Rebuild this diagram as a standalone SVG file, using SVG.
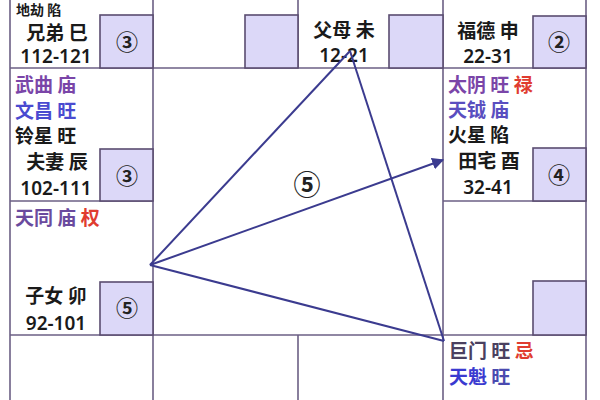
<svg xmlns="http://www.w3.org/2000/svg" width="600" height="400" viewBox="0 0 600 400">
<style>
.t{font-family:"Noto Sans CJK SC","Noto Sans",sans-serif;font-size:19px;font-weight:600;fill:#1a1a1a}
.n{font-family:"Noto Sans","DejaVu Sans",sans-serif;font-size:19px;font-weight:600;fill:#1a1a1a}
.c{font-family:"Noto Sans CJK SC","DejaVu Sans",sans-serif;font-size:22px;font-weight:700;fill:#222;text-anchor:middle}
.m{text-anchor:middle}
.grid{stroke:#6b5f84;stroke-width:1.6;fill:none}
.box{fill:#dcd8f8;stroke:#5a4d70;stroke-width:1.6}
.pu{fill:#7a45a8}
.bl{fill:#4a4ad0}
.rd{fill:#e03c30}
.tri{stroke:#3b3b8f;stroke-width:2;fill:none}
</style>
<defs>
<marker id="ah" viewBox="0 0 10 10" refX="9" refY="5" markerWidth="6" markerHeight="6" orient="auto" markerUnits="strokeWidth">
<path d="M0,0 L10,5 L0,10 z" fill="#3b3b8f"/>
</marker>
</defs>
<rect width="600" height="400" fill="#fff"/>
<g id="grid" class="grid">
<line x1="10" y1="0" x2="10" y2="400"/>
<line x1="153" y1="0" x2="153" y2="400"/>
<line x1="298" y1="0" x2="298" y2="68"/>
<line x1="298" y1="335" x2="298" y2="400"/>
<line x1="443" y1="0" x2="443" y2="400"/>
<line x1="586" y1="0" x2="586" y2="400"/>
<line x1="10" y1="68" x2="586" y2="68"/>
<line x1="10" y1="201" x2="153" y2="201"/>
<line x1="443" y1="201" x2="586" y2="201"/>
<line x1="10" y1="335" x2="586" y2="335"/>
</g>
<g id="cell-si">
<text class="t" x="16" y="15" style="font-size:14px">地劫 陷</text>
<text class="t m" x="57" y="40">兄弟 巳</text>
<text class="n m" x="56" y="63">112-121</text>
<rect class="box" x="100" y="15" width="53" height="53"/>
<text class="c" x="127" y="50">③</text>
</g>
<g id="cell-wu">
<rect class="box" x="245" y="15" width="53" height="53"/>
</g>
<g id="cell-wei">
<text class="t m" x="344" y="37">父母 未</text>
<text class="n m" x="344" y="62">12-21</text>
<rect class="box" x="389" y="15" width="54" height="53"/>
</g>
<g id="cell-shen">
<text class="t m" x="488" y="38">福德 申</text>
<text class="n m" x="488" y="63">22-31</text>
<rect class="box" x="533" y="16" width="53" height="52"/>
<text class="c" x="559" y="50">②</text>
</g>
<g id="cell-chen">
<text class="t pu" x="15" y="92">武曲 庙</text>
<text class="t bl" x="15" y="118">文昌 旺</text>
<text class="t" x="15" y="143">铃星 旺</text>
<text class="t m" x="57" y="169">夫妻 辰</text>
<text class="n m" x="56" y="195">102-111</text>
<rect class="box" x="100" y="149" width="53" height="52"/>
<text class="c" x="127" y="184">③</text>
</g>
<g id="cell-you">
<text class="t" x="448" y="92"><tspan class="pu">太阴 旺</tspan> <tspan class="rd">禄</tspan></text>
<text class="t" x="448" y="117" style="fill:#5a4ec0">天钺 庙</text>
<text class="t" x="448" y="142">火星 陷</text>
<text class="t m" x="489" y="168">田宅 酉</text>
<text class="n m" x="488" y="194">32-41</text>
<rect class="box" x="533" y="148" width="53" height="53"/>
<text class="c" x="559" y="183">④</text>
</g>
<g id="cell-mao">
<text class="t" x="15" y="225"><tspan style="fill:#6a4a9e">天同 庙</tspan> <tspan class="rd">权</tspan></text>
<text class="t m" x="56" y="303">子女 卯</text>
<text class="n m" x="56" y="330">92-101</text>
<rect class="box" x="100" y="282" width="53" height="53"/>
<text class="c" x="127" y="316">⑤</text>
</g>
<g id="cell-xu">
<rect class="box" x="533" y="281" width="53" height="54"/>
</g>
<g id="cell-hai">
<text class="t" x="449" y="358"><tspan style="fill:#4a4060">巨门 旺</tspan> <tspan class="rd">忌</tspan></text>
<text class="t" x="449" y="384"><tspan style="fill:#3a3ad0">天魁</tspan> <tspan style="fill:#4a4ab0">旺</tspan></text>
</g>
<g id="center">
<text class="c" x="307" y="195" style="font-size:27px;font-weight:600">⑤</text>
</g>
<g id="connectors" class="tri">
<line x1="350" y1="51" x2="150" y2="265"/>
<line x1="350" y1="51" x2="444" y2="341"/>
<line x1="150" y1="265" x2="444" y2="341"/>
<line x1="150" y1="265" x2="443" y2="160" marker-end="url(#ah)"/>
</g>
</svg>
